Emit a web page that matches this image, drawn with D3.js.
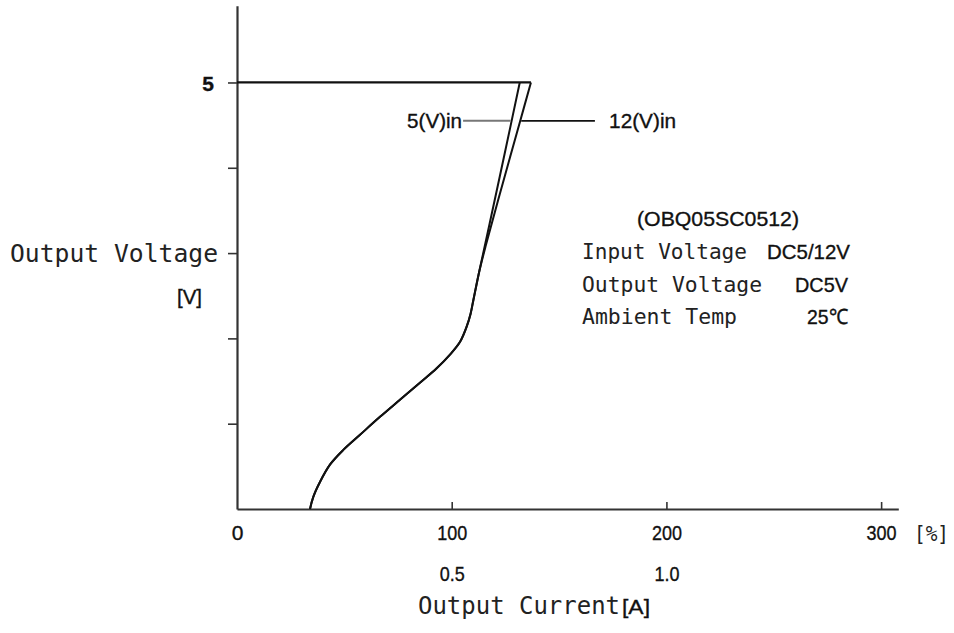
<!DOCTYPE html>
<html>
<head>
<meta charset="utf-8">
<script src="https://cdn.jsdelivr.net/npm/d3@7/dist/d3.min.js"></script>
<style>
  html, body { margin: 0; padding: 0; background: #fff; }
  svg { display: block; }
  .num { font-family: "Liberation Sans Narrow", "Arial Narrow", "Liberation Sans", Arial, sans-serif; fill: #111; stroke: #111; stroke-width: 0.35; }
  .mono { font-family: "DejaVu Sans Mono", "Liberation Mono", monospace; fill: #222; }
</style>
</head>
<body>
<svg id="chart" width="954" height="633"></svg>
<script>
// Output current in % of rated load (x) vs output voltage in V (y)
// Shared foldback section, identical for both input voltages
const commonPct = [34.0, 35.5, 38.7, 43.3, 49.4, 57.3, 66.6, 75.9, 85.2, 93.0, 99.2, 103.9, 107.0, 108.8, 110.1, 112.7];
const commonV   = [0.00, 0.14, 0.32, 0.52, 0.69, 0.87, 1.08, 1.28, 1.48, 1.65, 1.81, 1.96, 2.14, 2.29, 2.45, 2.77];
// Upper branches near the current limit
const branch5Pct  = [112.7, 117.7, 124.7, 131.7];
const branch5V    = [2.77, 3.35, 4.17, 5.00];
const branch12Pct = [112.7, 116.0, 121.6, 131.8, 136.9];
const branch12V   = [2.77, 3.10, 3.62, 4.54, 5.00];
// Regulated output level
const ratedV = 5;
const limitPct = 136.9;

// Axis ticks
const xTicks = [0, 100, 200, 300];
const ampTicks = [100, 200];
const ampLabels = ["0.5", "1.0"];
const yTicks = [1, 2, 3, 4, 5];
const yLabels = {5: "5"};

const svg = d3.select("#chart");

const x = d3.scaleLinear().domain([0, 308]).range([237, 898.3]);
const y = d3.scaleLinear().domain([0, 5.9]).range([509, 5.7]);

// Y axis: outward ticks, only the 5 V tick labelled
const yAxis = svg.append("g")
  .attr("transform", `translate(${x(0)},0)`)
  .call(d3.axisLeft(y).tickValues(yTicks).tickSizeInner(9).tickSizeOuter(0)
    .tickPadding(14).tickFormat(d => yLabels[d] || ""));
yAxis.select(".domain").attr("stroke", "#333").attr("stroke-width", 2.2);
yAxis.selectAll(".tick line").attr("stroke", "#333").attr("stroke-width", 1.6);
yAxis.selectAll(".tick text").attr("class", "num").attr("font-size", 21)
  .attr("font-weight", "bold").attr("dy", "0.36em");

// X axis: inward ticks, percent labels
const xAxis = svg.append("g")
  .attr("transform", `translate(0,${y(0)})`)
  .call(d3.axisBottom(x).tickValues(xTicks).tickSizeInner(-7).tickSizeOuter(0)
    .tickPadding(16).tickFormat(d3.format("d")));
xAxis.select(".domain").attr("stroke", "#333").attr("stroke-width", 2.2);
xAxis.selectAll(".tick line").attr("stroke", "#333").attr("stroke-width", 1.6)
  .filter(d => d === 0).remove();
xAxis.selectAll(".tick text").attr("class", "num").attr("font-size", 21).attr("dy", "0.72em")
  .attr("textLength", d => d === 0 ? null : 30).attr("lengthAdjust", "spacingAndGlyphs");

// Second row: current in amperes
const ampAxis = svg.append("g")
  .attr("transform", `translate(0,${y(0)})`)
  .call(d3.axisBottom(x).tickValues(ampTicks).tickSize(0).tickPadding(57)
    .tickFormat((d, i) => ampLabels[i]));
ampAxis.select(".domain").remove();
ampAxis.selectAll(".tick text").attr("class", "num").attr("font-size", 21).attr("dy", "0.72em")
  .attr("textLength", 25).attr("lengthAdjust", "spacingAndGlyphs");

// Unit label for the percent row
svg.append("text").attr("class", "mono").attr("x", 914).attr("y", 541)
  .attr("font-size", 22).attr("textLength", 35).attr("lengthAdjust", "spacingAndGlyphs")
  .text("[%]");

// Axis titles
svg.append("text").attr("class", "mono").attr("x", 10).attr("y", 262)
  .attr("font-size", 24).attr("textLength", 208).attr("lengthAdjust", "spacingAndGlyphs")
  .text("Output Voltage");
svg.append("text").attr("class", "num").attr("x", 177).attr("y", 304)
  .attr("font-size", 21).attr("textLength", 25).attr("lengthAdjust", "spacingAndGlyphs")
  .text("[V]");
svg.append("text").attr("class", "mono").attr("x", 418).attr("y", 614)
  .attr("font-size", 24).attr("textLength", 202).attr("lengthAdjust", "spacingAndGlyphs")
  .text("Output Current");
svg.append("text").attr("class", "num").attr("x", 622).attr("y", 614)
  .attr("font-size", 21).attr("textLength", 28).attr("lengthAdjust", "spacingAndGlyphs")
  .text("[A]");

// Curves
const line = d3.line().x(d => x(d[0])).y(d => y(d[1])).curve(d3.curveCatmullRom.alpha(0.5));
const common = commonPct.map((p, i) => [p, commonV[i]]);
const series5 = common.concat(branch5Pct.slice(1).map((p, i) => [p, branch5V[i + 1]]));
const series12 = common.concat(branch12Pct.slice(1).map((p, i) => [p, branch12V[i + 1]]));

svg.append("line")
  .attr("x1", x(0)).attr("x2", x(limitPct))
  .attr("y1", y(ratedV)).attr("y2", y(ratedV))
  .attr("stroke", "#111").attr("stroke-width", 2.2);

[series5, series12].forEach(s => {
  svg.append("path").datum(s).attr("d", line)
    .attr("fill", "none").attr("stroke", "#111").attr("stroke-width", 2);
});

// Input voltage labels with leader lines
const leaderV = 4.55;
const interp = (pts, v) => {
  for (let i = 1; i < pts.length; i++) {
    if (pts[i][1] >= v) {
      const t = (v - pts[i - 1][1]) / (pts[i][1] - pts[i - 1][1]);
      return pts[i - 1][0] + t * (pts[i][0] - pts[i - 1][0]);
    }
  }
  return pts[pts.length - 1][0];
};
const at5 = interp(series5, leaderV);
const at12 = interp(series12, leaderV);

svg.append("line")
  .attr("x1", x(105.3)).attr("x2", x(at5) - 1)
  .attr("y1", y(leaderV)).attr("y2", y(leaderV))
  .attr("stroke", "#777").attr("stroke-width", 2);
svg.append("text").attr("class", "num").attr("x", x(105.3) - 1).attr("y", y(leaderV) + 7)
  .attr("text-anchor", "end").attr("font-size", 21)
  .attr("textLength", 55).attr("lengthAdjust", "spacingAndGlyphs")
  .text("5(V)in");

svg.append("line")
  .attr("x1", x(at12) + 1).attr("x2", x(166.7))
  .attr("y1", y(leaderV)).attr("y2", y(leaderV))
  .attr("stroke", "#111").attr("stroke-width", 1.6);
svg.append("text").attr("class", "num").attr("x", x(173.3)).attr("y", y(leaderV) + 7)
  .attr("font-size", 21).attr("textLength", 67).attr("lengthAdjust", "spacingAndGlyphs")
  .text("12(V)in");

// Product conditions block
const note = svg.append("g");
note.append("text").attr("class", "num").attr("x", 718).attr("y", 226)
  .attr("text-anchor", "middle").attr("font-size", 21)
  .attr("textLength", 162).attr("lengthAdjust", "spacingAndGlyphs")
  .text("(OBQ05SC0512)");
const rows = [
  ["Input Voltage", 165, "DC5/12V", 767, 83, 259],
  ["Output Voltage", 180, "DC5V", 795, 53, 292],
  ["Ambient Temp", 155, "25℃", 807, 41, 324]
];
rows.forEach(([label, w, val, vx, vw, by]) => {
  note.append("text").attr("class", "mono").attr("x", 582).attr("y", by)
    .attr("font-size", 21).attr("textLength", w).attr("lengthAdjust", "spacingAndGlyphs")
    .text(label);
  note.append("text").attr("class", "num").attr("x", vx).attr("y", by)
    .attr("font-size", 21).attr("textLength", vw).attr("lengthAdjust", "spacingAndGlyphs")
    .text(val);
});
</script>
</body>
</html>
